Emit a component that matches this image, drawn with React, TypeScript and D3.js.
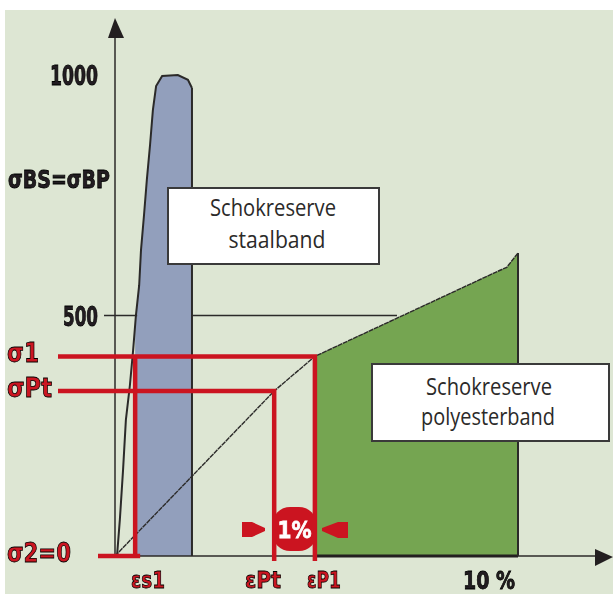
import React from "react";
import * as d3 from "d3";

const W = 613, H = 594;
// strain (%) vs stress
const steelStrain = [0.05, 0.12, 0.2, 0.27, 0.37, 0.45, 0.52, 0.6, 0.645, 0.72, 0.79, 0.87, 0.94, 1.02, 1.17, 1.56, 1.81, 1.91];
const steelStress = [0, 75, 179, 283, 355, 428, 501, 563, 636, 709, 782, 855, 927, 977, 998, 1000, 990, 973];
const polyStrain = [0, 3.95, 4.96, 9.5, 9.72, 10];
const polyStress = [0, 343, 415, 592, 600, 630];
const stressTicks = [{ v: 1000, t: "1000" }, { v: 500, t: "500" }];
const sigma1 = 415, sigmaPt = 343;
const epsS1 = 0.5, epsPt = 3.95, epsP1 = 4.96, epsMax = 10, steelEnd = 1.91;
const redLabels = ["σ1", "σPt", "σ2=0"];
const bottomLabels = ["εs1", "εPt", "εP1"];

const x = d3.scaleLinear().domain([0, 10]).range([115, 518]);
const y = d3.scaleLinear().domain([0, 1000]).range([556, 75]);
const line = d3.line<[number, number]>().x(d => x(d[0])).y(d => y(d[1]));
const steelPts = steelStrain.map((s, i) => [s, steelStress[i]] as [number, number]);
const polyPts = polyStrain.map((s, i) => [s, polyStress[i]] as [number, number]);
const polyAfter = polyPts.filter(p => p[0] >= epsP1);
const steelAfter = steelPts.filter(p => p[0] >= epsS1);
const RED = "#cb1420", INK = "#2b2a29";
const lab: React.CSSProperties = { fontFamily: "'DejaVu Sans', sans-serif", fontWeight: 700, stroke: "currentColor", strokeWidth: 0.8, filter: "url(#soft)" };

export default function App() {
  const steelArea = line([[epsS1, 480], ...steelAfter, [steelEnd, 0], [epsS1, 0]])! + "Z";
  const polyArea = line([...polyAfter, [epsMax, 0], [epsP1, 0]])! + "Z";
  return (
    <svg width={W} height={H} style={{ position: "absolute", left: 0, top: 0, background: "#fff" }}>
      <defs>
        <filter id="soft" x="-10%" y="-10%" width="120%" height="120%"><feGaussianBlur stdDeviation="0.5" /></filter>
      </defs>
      <rect x={5} y={10} width={608} height={584} fill="#dde6d3" />
      <path d={steelArea} fill="#929fbc" />
      <path d={polyArea} fill="#75a551" />
      {/* axes */}
      <line x1={x(0)} x2={x(0)} y1={38} y2={y(0)} stroke={INK} strokeWidth={1.5} />
      <path d="M115 18 L108 38 L124 38 Z" fill="#231f20" />
      <line x1={98} x2={598} y1={y(0)} y2={y(0)} stroke={INK} strokeWidth={1.5} />
      <line x1={x(epsP1)} x2={x(epsMax)} y1={y(0)} y2={y(0)} stroke="#231f20" strokeWidth={3} />
      <path d="M613 557 L595 549 L595 566 Z" fill="#231f20" />
      {/* curves */}
      <path d={line(steelPts)!} fill="none" stroke={INK} strokeWidth={2} />
      <line x1={x(steelEnd)} x2={x(steelEnd)} y1={y(973)} y2={y(0)} stroke={INK} strokeWidth={2} />
      <path d={line(polyPts)!} fill="none" stroke={INK} strokeWidth={1.4} strokeDasharray="5 0.7" />
      <line x1={x(epsMax)} x2={x(epsMax)} y1={y(630)} y2={y(0)} stroke={INK} strokeWidth={2} />
      <line x1={104} x2={x(0.55)} y1={y(500)} y2={y(500)} stroke={INK} strokeWidth={1.5} />
      <line x1={x(steelEnd)} x2={397} y1={y(500)} y2={y(500)} stroke={INK} strokeWidth={1.5} />
      {/* red guides */}
      <g stroke={RED} strokeWidth={4.5} fill="none">
        <path d={`M58 ${y(sigma1)}H${x(epsP1)}V${y(0) + 5}`} />
        <path d={`M58 ${y(sigmaPt)}H${x(epsPt)}V${y(0) + 5}`} />
        <path d={`M${x(epsS1)} ${y(sigma1)}V${y(0)}`} />
        <path d={`M98 ${y(0)}H${x(epsS1) + 5}`} />
      </g>
      <rect x={x(epsPt) - 2} y={507} width={x(epsP1) - x(epsPt) + 4} height={44} rx={18} fill={RED} />
      <text x={(x(epsPt) + x(epsP1)) / 2} y={538} textAnchor="middle" fontSize={23} fill="#fff" textLength={34} lengthAdjust="spacingAndGlyphs" style={{ ...lab, stroke: "#fff" }}>1%</text>
      <path d="M242 522H252L265 528V531L252 537H242Z" fill={RED} />
      <path d="M348 522H338L322 528V531L338 538H348Z" fill={RED} />
      {/* tick labels */}
      {stressTicks.map(t => (
        <text key={t.v} x={98} y={y(t.v) + 10} textAnchor="end" fontSize={27} textLength={t.v === 1000 ? 48 : 35} lengthAdjust="spacingAndGlyphs" fill="#231f20" style={lab}>{t.t}</text>
      ))}
      <text x={8} y={188} fontSize={25} textLength={102} lengthAdjust="spacingAndGlyphs" fill="#231f20" style={lab}>σBS=σBP</text>
      <text x={463} y={589} fontSize={25} textLength={52} lengthAdjust="spacingAndGlyphs" fill="#231f20" style={lab}>10 %</text>
      <g fill={RED} style={lab} fontSize={26}>
        <text x={7} y={362} textLength={32} lengthAdjust="spacingAndGlyphs">{redLabels[0]}</text>
        <text x={7} y={397} textLength={45} lengthAdjust="spacingAndGlyphs">{redLabels[1]}</text>
        <text x={7} y={562} textLength={64} lengthAdjust="spacingAndGlyphs">{redLabels[2]}</text>
      </g>
      <g fill={RED} style={lab} fontSize={23} textAnchor="middle">
        <text x={148} y={588} textLength={34} lengthAdjust="spacingAndGlyphs">{bottomLabels[0]}</text>
        <text x={263} y={588} textLength={36} lengthAdjust="spacingAndGlyphs">{bottomLabels[1]}</text>
        <text x={324} y={588} textLength={34} lengthAdjust="spacingAndGlyphs">{bottomLabels[2]}</text>
      </g>
      {/* boxes */}
      <g fill="#fff" stroke="#3a3a3a" strokeWidth={2}>
        <rect x={168} y={188} width={211} height={76} />
        <rect x={372} y={364} width={237} height={77} />
      </g>
      <g fontFamily="'Open Sans', sans-serif" fontSize={23} fill="#2b2a29" textAnchor="middle">
        <text x={273} y={216} textLength={126} lengthAdjust="spacingAndGlyphs">Schokreserve</text>
        <text x={277} y={248} textLength={97} lengthAdjust="spacingAndGlyphs">staalband</text>
        <text x={489} y={395} textLength={126} lengthAdjust="spacingAndGlyphs">Schokreserve</text>
        <text x={488} y={425} textLength={134} lengthAdjust="spacingAndGlyphs">polyesterband</text>
      </g>
    </svg>
  );
}
